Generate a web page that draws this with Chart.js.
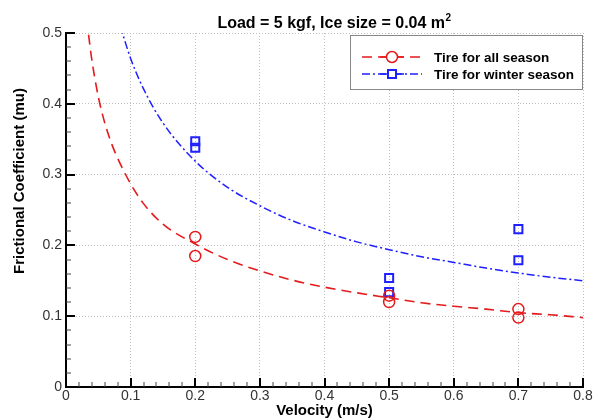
<!DOCTYPE html>
<html>
<head>
<meta charset="utf-8">
<title>Frictional coefficient vs velocity</title>
<script src="https://cdn.jsdelivr.net/npm/chart.js@4"></script>
<style>
  html, body { margin: 0; padding: 0; background: #fff; }
  #wrap { width: 601px; height: 420px; }
</style>
</head>
<body>
<div id="wrap"><canvas id="chart" width="601" height="420"></canvas></div>
<script>
// measured points
const allSeasonVel = [0.2, 0.2, 0.5, 0.5, 0.7, 0.7];
const allSeasonMu = [0.212, 0.185, 0.129, 0.120, 0.110, 0.098];
const winterVel = [0.2, 0.2, 0.5, 0.5, 0.7, 0.7];
const winterMu = [0.347, 0.338, 0.154, 0.134, 0.223, 0.179];

// fitted curves
const allSeasonFitVel = [0.032, 0.035, 0.04, 0.05, 0.06, 0.07, 0.08, 0.1, 0.12, 0.15, 0.2, 0.25, 0.3, 0.35, 0.4, 0.45, 0.5, 0.55, 0.6, 0.65, 0.7, 0.75, 0.8];
const allSeasonFitMu = [0.52, 0.497, 0.462, 0.410, 0.373, 0.345, 0.323, 0.287, 0.259, 0.230, 0.202, 0.180, 0.164, 0.151, 0.141, 0.133, 0.126, 0.119, 0.114, 0.110, 0.105, 0.102, 0.098];
const winterFitVel = [0.084, 0.09, 0.1, 0.12, 0.15, 0.2, 0.25, 0.3, 0.35, 0.4, 0.45, 0.5, 0.55, 0.6, 0.65, 0.7, 0.75, 0.8];
const winterFitMu = [0.51, 0.492, 0.464, 0.421, 0.373, 0.319, 0.282, 0.256, 0.235, 0.219, 0.205, 0.194, 0.184, 0.176, 0.168, 0.161, 0.155, 0.150];

const seriesLabels = ['Tire for all season', 'Tire for winter season'];
const xTickLabels = ['0', '0.1', '0.2', '0.3', '0.4', '0.5', '0.6', '0.7', '0.8'];
const yTickLabels = ['0', '0.1', '0.2', '0.3', '0.4', '0.5'];

const RED = '#e41a1c';
const BLUE = '#1f1fff';
const FONT = '"Liberation Sans", Arial, Helvetica, sans-serif';

const toXY = (xs, ys) => xs.map((x, i) => ({ x: x, y: ys[i] }));

// title, axis titles, inward ticks and the boxed legend
const decor = {
    id: 'decor',
    afterDraw(chart) {
        const ctx = chart.ctx;
        const area = chart.chartArea;
        const xs = chart.scales.x;
        const ys = chart.scales.y;
        ctx.save();

        // inward ticks
        for (let i = 0; i <= 40; i++) {
            const px = Math.round(xs.getPixelForValue(i * 0.02));
            const major = i % 5 === 0;
            ctx.strokeStyle = major ? '#000' : '#444';
            ctx.lineWidth = major ? 2 : 1;
            ctx.beginPath();
            ctx.moveTo(px, area.bottom);
            ctx.lineTo(px, area.bottom - (major ? 9 : 5));
            ctx.stroke();
        }
        for (let i = 0; i <= 25; i++) {
            const py = Math.round(ys.getPixelForValue(i * 0.02));
            const major = i % 5 === 0;
            ctx.strokeStyle = major ? '#000' : '#444';
            ctx.lineWidth = major ? 2 : 1;
            ctx.beginPath();
            ctx.moveTo(area.left, py);
            ctx.lineTo(area.left + (major ? 9 : 5), py);
            ctx.stroke();
        }

        // title with superscript
        ctx.fillStyle = '#000';
        ctx.font = 'bold 16px ' + FONT;
        ctx.textBaseline = 'alphabetic';
        ctx.textAlign = 'left';
        const main = 'Load = 5 kgf, Ice size = 0.04 m';
        const mainW = ctx.measureText(main).width;
        ctx.font = 'bold 10px ' + FONT;
        const supW = ctx.measureText('2').width;
        const tx = 334 - (mainW + supW) / 2;
        ctx.font = 'bold 16px ' + FONT;
        ctx.fillText(main, tx, 28);
        ctx.font = 'bold 10px ' + FONT;
        ctx.fillText('2', tx + mainW + 0.5, 21);

        // axis titles
        ctx.font = 'bold 15px ' + FONT;
        ctx.textAlign = 'center';
        ctx.textBaseline = 'middle';
        ctx.fillText('Velocity (m/s)', (area.left + area.right) / 2, 411);
        ctx.save();
        ctx.translate(20, 181);
        ctx.rotate(-Math.PI / 2);
        ctx.fillText('Frictional Coefficient (mu)', 0, 0);
        ctx.restore();

        // legend
        const bx = 350, by = 35, bw = 232, bh = 54;
        ctx.fillStyle = '#fff';
        ctx.fillRect(bx, by, bw, bh);
        ctx.strokeStyle = '#888';
        ctx.lineWidth = 1;
        ctx.strokeRect(bx + 0.5, by + 0.5, bw, bh);
        const rows = [
            { ds: chart.data.datasets[2], pt: chart.data.datasets[0], y: 57 },
            { ds: chart.data.datasets[3], pt: chart.data.datasets[1], y: 74 }
        ];
        rows.forEach((r) => {
            ctx.strokeStyle = r.ds.borderColor;
            ctx.lineWidth = 1.5;
            ctx.setLineDash(r.ds.borderDash);
            ctx.beginPath();
            ctx.moveTo(362, r.y);
            ctx.lineTo(422, r.y);
            ctx.stroke();
            ctx.setLineDash([]);
            ctx.beginPath();
            ctx.moveTo(380, r.y);
            ctx.lineTo(404, r.y);
            ctx.stroke();
            ctx.lineWidth = r.pt.borderWidth;
            ctx.fillStyle = '#fff';
            ctx.beginPath();
            if (r.pt.pointStyle === 'rect') {
                ctx.rect(388, r.y - 4, 8, 8);
            } else {
                ctx.arc(392, r.y, r.pt.pointRadius, 0, Math.PI * 2);
            }
            ctx.fill();
            ctx.stroke();
            ctx.fillStyle = '#000';
            ctx.font = 'bold 13.5px ' + FONT;
            ctx.textAlign = 'left';
            ctx.textBaseline = 'middle';
            ctx.fillText(r.ds.label, 434, r.y + 1);
        });
        ctx.restore();
    }
};

new Chart(document.getElementById('chart'), {
    type: 'scatter',
    data: {
        datasets: [
            {
                label: seriesLabels[0] + ' (data)',
                data: toXY(allSeasonVel, allSeasonMu),
                pointStyle: 'circle',
                pointRadius: 5.5,
                borderWidth: 1.5,
                borderColor: RED,
                backgroundColor: 'rgba(0,0,0,0)',
                showLine: false
            },
            {
                label: seriesLabels[1] + ' (data)',
                data: toXY(winterVel, winterMu),
                pointStyle: 'rect',
                pointRadius: 5.7,
                borderWidth: 2,
                borderColor: BLUE,
                backgroundColor: 'rgba(0,0,0,0)',
                showLine: false
            },
            {
                label: seriesLabels[0],
                data: toXY(allSeasonFitVel, allSeasonFitMu),
                showLine: true,
                pointRadius: 0,
                borderColor: RED,
                borderWidth: 1.6,
                borderDash: [10, 6],
                cubicInterpolationMode: 'monotone'
            },
            {
                label: seriesLabels[1],
                data: toXY(winterFitVel, winterFitMu),
                showLine: true,
                pointRadius: 0,
                borderColor: BLUE,
                borderWidth: 1.5,
                borderDash: [8, 3, 2, 3],
                cubicInterpolationMode: 'monotone'
            }
        ]
    },
    options: {
        responsive: false,
        animation: false,
        layout: { padding: { left: 0, right: 18, top: 33, bottom: 0 } },
        plugins: {
            legend: { display: false },
            tooltip: { enabled: false }
        },
        scales: {
            x: {
                type: 'linear',
                min: 0,
                max: 0.8,
                afterFit: (s) => { s.height = 33; },
                grid: { color: '#c0c0c0', lineWidth: 1, drawTicks: false },
                border: { display: true, color: '#000', width: 2, dash: [1, 2] },
                ticks: {
                    stepSize: 0.1,
                    padding: 1,
                    color: '#333',
                    font: { family: FONT, size: 14 },
                    callback: (v, i) => xTickLabels[i]
                }
            },
            y: {
                type: 'linear',
                min: 0,
                max: 0.5,
                afterFit: (s) => { s.width = 66; },
                grid: { color: '#c0c0c0', lineWidth: 1, drawTicks: false },
                border: { display: true, color: '#000', width: 2, dash: [1, 2] },
                ticks: {
                    stepSize: 0.1,
                    padding: 4,
                    color: '#333',
                    font: { family: FONT, size: 14 },
                    callback: (v, i) => yTickLabels[i]
                }
            }
        }
    },
    plugins: [decor]
});
</script>
</body>
</html>
